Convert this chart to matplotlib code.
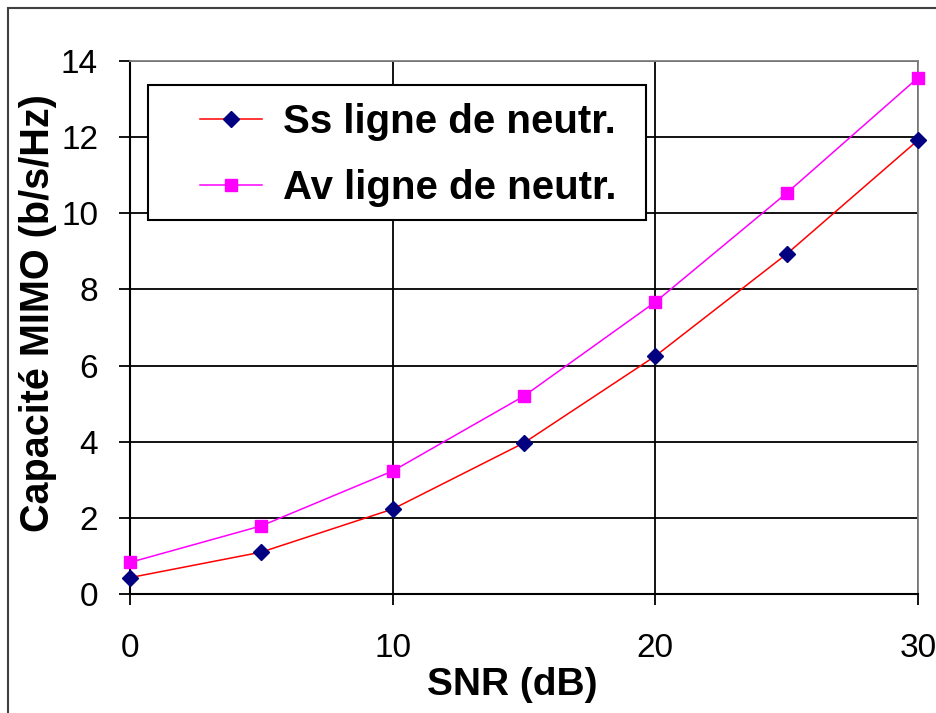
import matplotlib
matplotlib.use("Agg")
import matplotlib.pyplot as plt
from matplotlib.patches import Rectangle

# =========================
# 数据
# =========================
snr_db = [0, 5, 10, 15, 20, 25, 30]
cap_sans = [0.43, 1.10, 2.23, 3.97, 6.25, 8.93, 11.92]
cap_avec = [0.83, 1.79, 3.23, 5.20, 7.67, 10.53, 13.56]

label_sans = "Ss ligne de neutr."
label_avec = "Av ligne de neutr."
x_label = "SNR (dB)"
y_label = "Capacité MIMO (b/s/Hz)"
x_ticks = [0, 10, 20, 30]
y_ticks = [0, 2, 4, 6, 8, 10, 12, 14]

plt.rcParams["font.family"] = ["Liberation Sans", "DejaVu Sans"]

W, H = 937, 713
fig = plt.figure(figsize=(W / 100, H / 100), dpi=100)
fig.patch.set_facecolor("white")

# 外框（右侧和下侧超出画面）
fig.patches.append(Rectangle((8 / W, -0.2), 1.2, 0.2 + (H - 8) / H,
                             transform=fig.transFigure, fill=False,
                             edgecolor="#404040", linewidth=1.5))

ax = fig.add_axes([130 / W, (H - 594) / H, (918 - 130) / W, (594 - 61) / H])

ax.plot(snr_db, cap_sans, color="#ff0000", linewidth=1.1, marker="D",
        markersize=8, markerfacecolor="#000080", markeredgecolor="#000080",
        label=label_sans, zorder=4, clip_on=False)
ax.plot(snr_db, cap_avec, color="#ff00ff", linewidth=1.1, marker="s",
        markersize=9, markerfacecolor="#ff00ff", markeredgecolor="#ff00ff",
        label=label_avec, zorder=3, clip_on=False)

ax.set_xlim(0, 30)
ax.set_ylim(0, 14)
ax.set_xticks(x_ticks)
ax.set_yticks(y_ticks)

ax.grid(True, color="black", linewidth=1.3)
ax.set_axisbelow(True)

for side in ["top", "right"]:
    ax.spines[side].set_color("#808080")
    ax.spines[side].set_linewidth(1.3)
for side in ["left", "bottom"]:
    ax.spines[side].set_color("black")
    ax.spines[side].set_linewidth(1.5)

ax.tick_params(axis="both", direction="out", length=8, width=1.3,
               labelsize=24, colors="black")
ax.tick_params(axis="y", pad=15)
ax.tick_params(axis="x", pad=20)

ax.set_xlabel(x_label, fontsize=28, fontweight="bold")
ax.set_ylabel(y_label, fontsize=28.5, fontweight="bold")
ax.xaxis.set_label_coords((512 - 130) / 788, (594 - 667) / 533)
ax.yaxis.set_label_coords((57 - 130) / 788, (594 - 313) / 533)

# 图例框（手动画框，图例本身无边框）
x0 = (148 - 130) / 788
y0 = (594 - 220) / 533
ax.add_patch(Rectangle((x0, y0), (646 - 148) / 788, (220 - 85) / 533,
                       transform=ax.transAxes, facecolor="white",
                       edgecolor="black", linewidth=1.5, zorder=5))
leg = ax.legend(loc="center left", bbox_to_anchor=((200 - 130) / 788, (594 - 155) / 533),
                frameon=False, numpoints=1, handlelength=1.55, handletextpad=0.5,
                labelspacing=0.7, borderpad=0, borderaxespad=0,
                prop={"size": 29, "weight": "bold"})
leg.set_zorder(6)

fig.savefig("out.png", dpi=100, facecolor="white")
